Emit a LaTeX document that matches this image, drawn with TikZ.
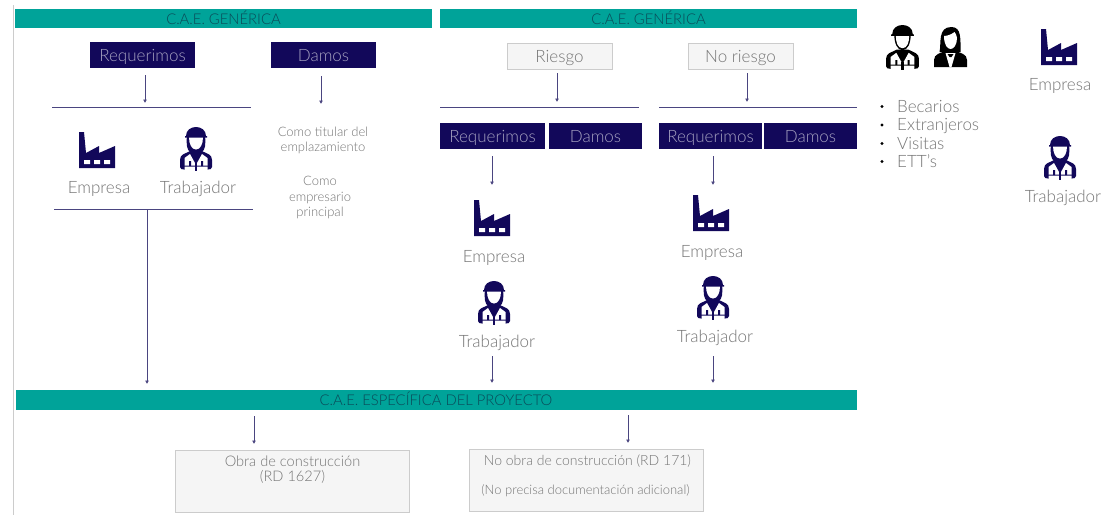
\documentclass[tikz,border=0pt]{standalone}
\usepackage{fontspec}
\setmainfont{Lato Light}
\usetikzlibrary{arrows.meta}
\definecolor{teal1}{HTML}{00A399}
\definecolor{tealtxt}{HTML}{0B4A58}
\definecolor{navy}{HTML}{12085A}
\definecolor{txt}{HTML}{757575}
\definecolor{linec}{HTML}{4A4580}
\newcommand{\wkbody}[1]{%
  \fill[#1] (-16,40) -- (-16,33) .. controls (-16,27) and (-11,27) .. (-6,24) -- (6,24) .. controls (11,27) and (16,27) .. (16,33) -- (16,40) .. controls (16,42) and (14,42.5) .. (12,42.5) -- (-12,42.5) .. controls (-14,42.5) and (-16,42) .. (-16,40) -- cycle;
  \fill[white] (-11.5,31) -- (-6,27) -- (-1,36) -- (-1,38.5) -- (-11.5,38.5) -- cycle;
  \fill[white] (11.5,31) -- (6,27) -- (1,36) -- (1,38.5) -- (11.5,38.5) -- cycle;
  \fill[white] (-11.5,39.5) rectangle (-1,43) (1,39.5) rectangle (11.5,43);
  \fill[#1] (-7,34) rectangle (-5,39) (5,34) rectangle (7,39);
  \fill[#1] (-1,36) rectangle (1,44);
}
\newcommand{\wkhelmet}[1]{%
  \fill[#1] (-10,9) .. controls (-10,-3) and (10,-3) .. (10,9) -- (11,9) -- (11,10.5) -- (-11,10.5) -- (-11,9) -- cycle;
}
\tikzset{
  x=1pt,y=-1pt,
  bar/.style={fill=teal1,draw=none,text=tealtxt,font=\fontsize{14.8}{16}\selectfont,inner sep=0pt,text height=12pt,text depth=1pt},
  navybox/.style={fill=navy,draw=none,text=white!62!navy,font=\fontsize{17}{17}\selectfont,inner sep=0pt,minimum height=26pt,text height=14pt,text depth=1pt},
  greybox/.style={fill=black!4,draw=black!20,line width=.8pt,text=txt,font=\fontsize{17}{17}\selectfont,inner sep=0pt,minimum height=26pt,minimum width=105pt,text height=14pt,text depth=1pt},
  note/.style={fill=black!4,draw=black!20,line width=.8pt,inner sep=0pt},
  label/.style={text=txt,font=\fontsize{17}{17}\selectfont,inner sep=0pt,align=center},
  small/.style={text=txt,font=\fontsize{13}{15.5}\selectfont,inner sep=0pt,align=center},
  body/.style={text=txt,font=\fontsize{14.6}{15}\selectfont,inner sep=0pt,align=center},
  flow/.style={draw=linec,line width=1pt,-{Latex[length=3.5pt,width=4pt]}},
  rule/.style={draw=linec,line width=1pt},
  pics/factory/.style={code={
    \fill[navy] (-18,-18) -- (-13,-18) -- (-11,3) -- (2,-4) -- (2,3) -- (18,-4) -- (18,18) -- (-18,18) -- cycle;
    \fill[white] (-13,10) rectangle (-7,14) (-3,10) rectangle (3,14) (7,10) rectangle (13,14);
  }},
  pics/worker/.style={code={
    \wkbody{#1}
    \fill[#1] (-9,9) .. controls (-10,17) and (-9,23) .. (-6,25) -- (6,25) .. controls (9,23) and (10,17) .. (9,9) -- cycle;
    \fill[white] (-7,10) -- (7,10) .. controls (7,17) and (4.5,22.5) .. (0,22.5) .. controls (-4.5,22.5) and (-7,17) .. (-7,10) -- cycle;
    \wkhelmet{#1}
  }},
  pics/manworker/.style={code={
    \wkbody{black}
    \fill[black] (-8,9) .. controls (-8,18) and (-5,24.5) .. (0,24.5) .. controls (5,24.5) and (8,18) .. (8,9) -- cycle;
    \fill[white] (-6.5,10) -- (6.5,10) .. controls (6.5,17) and (4.5,22.5) .. (0,22.5) .. controls (-4.5,22.5) and (-6.5,17) .. (-6.5,10) -- cycle;
    \wkhelmet{black}
  }},
  pics/woman/.style={code={
    \fill[black] (-16.5,40) -- (-16.5,33) .. controls (-16.5,27) and (-10,26) .. (-5,24) -- (5,24) .. controls (10,26) and (16.5,27) .. (16.5,33) -- (16.5,40) -- cycle;
    \fill[black] (-11,25) .. controls (-9,16) and (-13,0) .. (1,0) .. controls (11,0) and (10,12) .. (10,25) -- cycle;
    \fill[white] (-6.5,9) .. controls (-2,9) and (3,6) .. (4,5) .. controls (5,7) and (6.5,8) .. (6.5,11) .. controls (6.5,18) and (3,22) .. (0,22) .. controls (-3,22) and (-6.5,18) .. (-6.5,9) -- cycle;
    \fill[white] (-5,26) -- (5,26) -- (1,40) -- (-1,40) -- cycle;
    \fill[black] (-3,27) -- (3,27) -- (1,30) -- (-1,30) -- cycle;
  }},
}
\begin{document}
\begin{tikzpicture}
\useasboundingbox (0,0) rectangle (1102,515);
\fill[white] (0,0) rectangle (1102,515);
\draw[black!20,line width=.9pt] (13,5) -- (13,515);

% bars
\node[bar,minimum width=417pt,minimum height=19pt] (g1) at (223.5,18.5) {C.A.E. GENÉRICA};
\node[bar,minimum width=417pt,minimum height=19pt] (g2) at (648.5,18.5) {C.A.E. GENÉRICA};
\node[bar,minimum width=841pt,minimum height=20pt] (esp) at (436,400) {C.A.E. ESPECÍFICA DEL PROYECTO};

% left column
\node[navybox,minimum width=105pt] (req1) at (142.5,55) {Requerimos};
\node[navybox,minimum width=105pt] (dam1) at (323.5,55) {Damos};
\coordinate (r1a) at (52,107.5); \coordinate (r1b) at (251,107.5);
\coordinate (r2a) at (54,209.5); \coordinate (r2b) at (253,209.5);
\draw[rule] (r1a) -- (r1b);
\draw[rule] (r2a) -- (r2b);
\pic at (97,150) {factory};
\pic at (196,127) {worker=navy};
\node[label] (e1) at (99,188.5) {Empresa};
\node[label] (t1) at (198,189) {Trabajador};
\node[small] (n1) at (323,140.5) {Como titular del\\emplazamiento};
\node[small] (n2) at (320,197.5) {Como\\empresario\\principal};

% middle column
\node[greybox] (rie) at (559.5,56) {Riesgo};
\node[greybox] (nor) at (740.5,56) {No riesgo};
\coordinate (r3a) at (440,107.5); \coordinate (r3b) at (639,107.5);
\coordinate (r4a) at (659,107.5); \coordinate (r4b) at (857,107.5);
\draw[rule] (r3a) -- (r3b);
\draw[rule] (r4a) -- (r4b);
\node[navybox,minimum width=105pt] (req2) at (492.5,136) {Requerimos};
\node[navybox,minimum width=93pt] (dam2) at (595.5,136) {Damos};
\node[navybox,minimum width=103pt] (req3) at (710.5,136) {Requerimos};
\node[navybox,minimum width=93pt] (dam3) at (810.5,136) {Damos};
\pic at (492,218) {factory};
\pic at (711,213) {factory};
\pic at (494,281) {worker=navy};
\pic at (713,276) {worker=navy};
\node[label] (e2) at (494,257.5) {Empresa};
\node[label] (e3) at (712,252.5) {Empresa};
\node[label] (t2) at (497,343) {Trabajador};
\node[label] (t3) at (715,338) {Trabajador};

% bottom
\node[note,minimum width=234pt,minimum height=62pt] (ob) at (292.5,481) {};
\node[note,minimum width=234pt,minimum height=62pt] (nob) at (586,480.5) {};
\node[body] (obt) at (292.5,469.5) {Obra de construcción\\(RD 1627)};
\node[body,font=\fontsize{14}{15}\selectfont] (nobt) at (587.5,461) {No obra de construcción (RD 171)};
\node[small] (nobs) at (585.5,491) {(No precisa documentación adicional)};

% arrows
\coordinate (s1) at (145,75); \coordinate (d1) at (145,103);
\coordinate (s2) at (321,76); \coordinate (d2) at (321,104);
\coordinate (s3) at (557,73); \coordinate (d3) at (557,102);
\coordinate (s4) at (747,73); \coordinate (d4) at (747,102);
\coordinate (s5) at (492,156); \coordinate (d5) at (492,185);
\coordinate (s6) at (713,156); \coordinate (d6) at (713,185);
\coordinate (s7) at (147,209.5); \coordinate (d7) at (147,384);
\coordinate (s8) at (492,356); \coordinate (d8) at (492,383);
\coordinate (s9) at (713,356); \coordinate (d9) at (713,383);
\coordinate (s10) at (254,416); \coordinate (d10) at (254,444);
\coordinate (s11) at (628,415); \coordinate (d11) at (628,443);
\foreach \i in {1,...,11} \draw[flow] (s\i) -- (d\i);

% right column
\pic[scale=1.03] at (902.5,25) {manworker};
\pic at (950.5,27) {woman};
\pic at (1059,47) {factory};
\pic at (1060,136) {worker=navy};
\node[label] (e4) at (1060,86) {Empresa};
\node[label] (t4) at (1063,197.5) {Trabajador};
\foreach \yy/\tt/\nn in {112/Becarios/b1,130.5/Extranjeros/b2,149/Visitas/b3,167/ETT's/b4}{
  \fill[black] (882,\yy-5.5) circle (1.7pt);
  \node[label,anchor=base west] (\nn) at (897,\yy) {\tt};
}
\end{tikzpicture}
\end{document}
